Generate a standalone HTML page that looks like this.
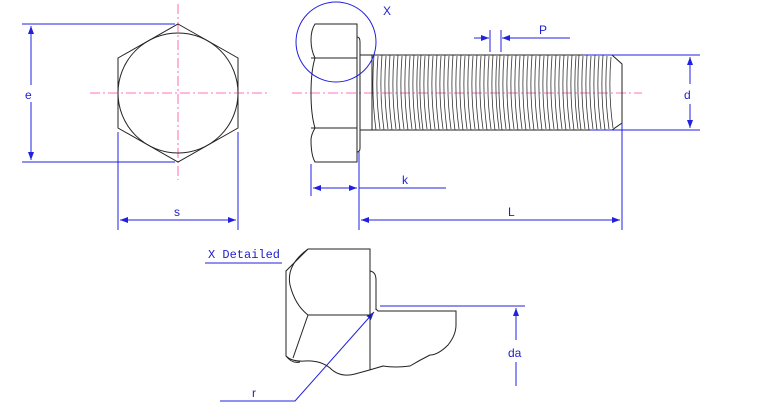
<!DOCTYPE html>
<html><head><style>body{margin:0;background:#fff}svg{display:block}text{font-family:"Liberation Sans",sans-serif;fill:#2020d0;font-size:12px}</style></head><body>
<svg width="784" height="413" viewBox="0 0 784 413" xmlns="http://www.w3.org/2000/svg">
<defs><marker id="a" markerWidth="8" markerHeight="6" refX="8" refY="3" orient="auto-start-reverse"><path d="M0,0 L8,3 L0,6z" fill="#2020e0"/></marker></defs>
<g stroke="#ff44aa" stroke-width="0.8" stroke-dasharray="10,3,2,3" fill="none">
<line x1="178" y1="4" x2="178" y2="180"/><line x1="90" y1="93" x2="268" y2="93"/><line x1="292" y1="93" x2="642" y2="93"/>
</g>
<g stroke="#222" stroke-width="1" fill="none">
<polygon points="178,24 238,58 238,128 178,162 118,128 118,58"/>
<circle cx="178" cy="93" r="60"/>
<path d="M315,24 H357 V162 H315 Q311,155 311,140 Q311,135 315,128 Q311,115 311,93 Q311,71 315,58 Q311,50 311,40 Q311,30 315,24Z"/>
<line x1="311" y1="58" x2="357" y2="58"/><line x1="311" y1="128" x2="357" y2="128"/>
<path d="M357,37 Q360,37 360,42 V148 Q360,152 357,152"/>
<line x1="360" y1="55" x2="374" y2="55"/><line x1="360" y1="130" x2="374" y2="130"/>
<line x1="372" y1="55" x2="372" y2="130"/>
<line x1="372" y1="55" x2="612" y2="55"/><line x1="372" y1="130" x2="612" y2="130"/>
<path d="M612,55 L622,64 V123 L612,130"/>
</g>
<path stroke="#333" stroke-width="0.8" fill="none" d="M374,55 q-3,38 2,75 m2,-74 q-3,37 2,73 M382,55 q-3,38 2,75 m2,-74 q-3,37 2,73 M390,55 q-3,38 2,75 m2,-74 q-3,37 2,73 M398,55 q-3,38 2,75 m2,-74 q-3,37 2,73 M406,55 q-3,38 2,75 m2,-74 q-3,37 2,73 M414,55 q-3,38 2,75 m2,-74 q-3,37 2,73 M421,55 q-3,38 2,75 m2,-74 q-3,37 2,73 M429,55 q-3,38 2,75 m2,-74 q-3,37 2,73 M437,55 q-3,38 2,75 m2,-74 q-3,37 2,73 M445,55 q-3,38 2,75 m2,-74 q-3,37 2,73 M453,55 q-3,38 2,75 m2,-74 q-3,37 2,73 M461,55 q-3,38 2,75 m2,-74 q-3,37 2,73 M469,55 q-3,38 2,75 m2,-74 q-3,37 2,73 M477,55 q-3,38 2,75 m2,-74 q-3,37 2,73 M485,55 q-3,38 2,75 m2,-74 q-3,37 2,73 M493,55 q-3,38 2,75 m2,-74 q-3,37 2,73 M500,55 q-3,38 2,75 m2,-74 q-3,37 2,73 M508,55 q-3,38 2,75 m2,-74 q-3,37 2,73 M516,55 q-3,38 2,75 m2,-74 q-3,37 2,73 M524,55 q-3,38 2,75 m2,-74 q-3,37 2,73 M532,55 q-3,38 2,75 m2,-74 q-3,37 2,73 M540,55 q-3,38 2,75 m2,-74 q-3,37 2,73 M548,55 q-3,38 2,75 m2,-74 q-3,37 2,73 M556,55 q-3,38 2,75 m2,-74 q-3,37 2,73 M564,55 q-3,38 2,75 m2,-74 q-3,37 2,73 M572,55 q-3,38 2,75 m2,-74 q-3,37 2,73 M579,55 q-3,38 2,75 m2,-74 q-3,37 2,73 M587,55 q-3,38 2,75 m2,-74 q-3,37 2,73 M595,55 q-3,38 2,75 m2,-74 q-3,37 2,73 M603,55 q-3,38 2,75 m2,-74 q-3,37 2,73 M611,57 q-3,36 2,71"/>
<g stroke="#2020e0" stroke-width="1" fill="none">
<circle cx="336" cy="42" r="40"/>
<line x1="22" y1="24" x2="175" y2="24"/><line x1="22" y1="162" x2="175" y2="162"/>
<line x1="31" y1="26" x2="31" y2="85" marker-start="url(#a)"/><line x1="31" y1="102" x2="31" y2="160" marker-end="url(#a)"/>
<line x1="118" y1="132" x2="118" y2="230"/><line x1="238" y1="132" x2="238" y2="230"/>
<line x1="120" y1="220" x2="236" y2="220" marker-start="url(#a)" marker-end="url(#a)"/>
<line x1="311" y1="164" x2="311" y2="196"/><line x1="359" y1="152" x2="359" y2="230"/>
<line x1="313" y1="188" x2="357" y2="188" marker-start="url(#a)" marker-end="url(#a)"/><line x1="359" y1="188" x2="446" y2="188"/>
<line x1="361" y1="220" x2="620" y2="220" marker-start="url(#a)" marker-end="url(#a)"/>
<line x1="622" y1="123" x2="622" y2="230"/>
<line x1="490" y1="30" x2="490" y2="52"/><line x1="501" y1="30" x2="501" y2="52"/>
<line x1="474" y1="38" x2="489" y2="38" marker-end="url(#a)"/><line x1="570" y1="38" x2="502" y2="38" marker-end="url(#a)"/>
<line x1="583" y1="55" x2="700" y2="55"/><line x1="590" y1="130" x2="700" y2="130"/>
<line x1="690" y1="57" x2="690" y2="84" marker-start="url(#a)"/><line x1="690" y1="104" x2="690" y2="128" marker-end="url(#a)"/>
<line x1="205" y1="263" x2="282" y2="263"/>
<line x1="380" y1="306" x2="525" y2="306"/>
<line x1="516" y1="308" x2="516" y2="340" marker-start="url(#a)"/><line x1="516" y1="362" x2="516" y2="386"/>
<polyline points="220,401 295,401 374,312" marker-end="url(#a)"/>
</g>
<g stroke="#222" stroke-width="1" fill="none">
<path d="M308,249 H370 V370"/>
<path d="M308,249 L286,271 V356 Q292,364 300,362"/>
<path d="M308,249 Q286,265 290,285 Q295,305 308,315 H370"/>
<path d="M308,315 L293,358"/>
<path d="M370,271 Q376,272 376,280 V310"/>
<path d="M376,309 L378,311 H456 V325 Q456,335 448,345 Q438,355 430,355 Q420,360 410,366 Q395,368 383,366 Q370,370 355,374 Q340,378 330,368 Q320,360 305,361 Q292,362 286,356"/>
</g>
<text x="25" y="99">e</text><text x="174" y="216">s</text>
<text x="383" y="15">X</text><text x="539" y="34">P</text><text x="684" y="99">d</text>
<text x="402" y="184">k</text><text x="508" y="216">L</text>
<text x="208" y="258" style="font-family:'Liberation Mono',monospace;font-size:12px">X Detailed</text>
<text x="508" y="357">da</text><text x="252" y="397">r</text>
</svg>
</body></html>
